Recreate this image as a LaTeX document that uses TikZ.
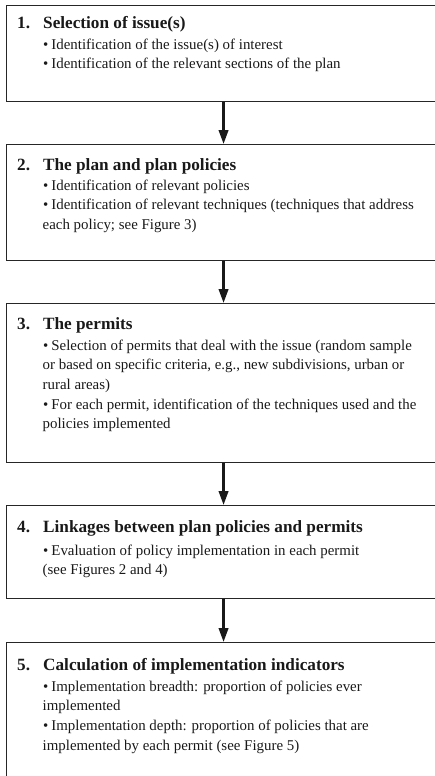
\documentclass[tikz,border=0pt]{standalone}
\usepackage{fontspec}
\setmainfont{Liberation Serif}
\usetikzlibrary{arrows.meta}
% a block of left-aligned lines whose baseline is that of its first line
\newcommand{\stagelines}[1]{\begin{tabular}[t]{@{}l@{}}#1\end{tabular}}
\newcommand{\itm}{\hspace*{2pt}\textbullet\hspace{3pt}}
\newcommand{\cnt}{\hspace*{1.5pt}}
\begin{document}
\begin{tikzpicture}[x=1pt,y=-1pt,
  stage/.style={draw=black!85, line width=1.1pt, minimum width=434pt,
    inner sep=0pt, anchor=north west},
  flow/.style={draw=black!90, line width=2.4pt,
    -{Triangle[width=9.5pt,length=14pt]}},
  headnum/.style={font=\fontsize{17.2}{20}\selectfont\bfseries,
    inner sep=0pt, anchor=base west, text=black!90},
  headtxt/.style={headnum},
  body/.style={font=\fontsize{14.9}{19.7}\selectfont,
    inner sep=0pt, anchor=base west, text=black!90}]
\useasboundingbox (0,0) rectangle (435,776);
\clip (0,0) rectangle (435,776);

% stage frames (they run past the right edge, the last one past the bottom)
\node[stage, minimum height=96pt]  (b1) at (6,5)   {};
\node[stage, minimum height=116pt] (b2) at (6,144) {};
\node[stage, minimum height=159pt] (b3) at (6,303) {};
\node[stage, minimum height=93pt]  (b4) at (6,505) {};
\node[stage, minimum height=170pt] (b5) at (6,642) {};

% flow arrows between stages
\draw[flow] (b1.south) -- (b2.north);
\draw[flow] (b2.south) -- (b3.north);
\draw[flow] (b3.south) -- (b4.north);
\draw[flow] (b4.south) -- (b5.north);

% stage 1
\node[headnum] (n1) at (17,29) {1.};
\node[headtxt] (h1) at (43,29) {Selection of issue(s)};
\node[body] (t1) at (41,49) {\stagelines{\itm Identification of the issue(s) of interest\\
\itm Identification of the relevant sections of the plan}};

% stage 2
\node[headnum] (n2) at (17,170) {2.};
\node[headtxt] (h2) at (43,170) {The plan and plan policies};
\node[body] (t2) at (41,190) {\stagelines{\itm Identification of relevant policies\\
\itm Identification of relevant techniques (techniques that address\\
\cnt each policy; see Figure 3)}};

% stage 3
\node[headnum] (n3) at (17,329) {3.};
\node[headtxt] (h3) at (43,329) {The permits};
\node[body] (t3) at (41,350) {\stagelines{\itm Selection of permits that deal with the issue (random sample\\
\cnt or based on specific criteria, e.g., new subdivisions, urban or\\
\cnt rural areas)\\
\itm For each permit, identification of the techniques used and the\\
\cnt policies implemented}};

% stage 4
\node[headnum] (n4) at (17,532) {4.};
\node[headtxt] (h4) at (43,532) {Linkages between plan policies and permits};
\node[body] (t4) at (41,555) {\stagelines{\itm Evaluation of policy implementation in each permit\\
\cnt (see Figures 2 and 4)}};

% stage 5
\node[headnum] (n5) at (17,670) {5.};
\node[headtxt] (h5) at (43,670) {Calculation of implementation indicators};
\node[body] (t5) at (41,691) {\stagelines{\itm Implementation breadth: proportion of policies ever\\
\cnt implemented\\
\itm Implementation depth: proportion of policies that are\\
\cnt implemented by each permit (see Figure 5)}};
\end{tikzpicture}
\end{document}
